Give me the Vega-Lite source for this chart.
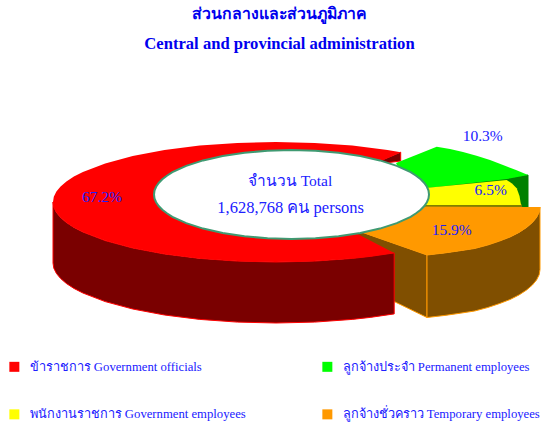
{"$schema":"https://vega.github.io/schema/vega-lite/v6.json","width":543,"height":366,"autosize":{"type":"none"},"padding":{"left":0,"top":60,"right":0,"bottom":0},"background":"white",
"title":{"text":"ส่วนกลางและส่วนภูมิภาค","subtitle":"Central and provincial administration","anchor":"middle","offset":6,"dx":8,"font":"Liberation Serif","fontSize":15.8,"fontWeight":"bold","color":"#0000ee","subtitleFont":"Liberation Serif","subtitleFontSize":16.6,"subtitleFontWeight":"bold","subtitleColor":"#0000ee","subtitlePadding":14},
"projection":{"type":"identity","scale":1,"translate":[0,-60]},
"layer":[
{"data":{"values":[
{"type":"Feature","properties":{"category":"ลูกจ้างชั่วคราว Temporary employees","part":"left face"},"geometry":{"type":"Polygon","coordinates":[[[350,228],[427,255],[427,317.5],[350,280],[350,228]]]}},
{"type":"Feature","properties":{"category":"ลูกจ้างชั่วคราว Temporary employees","part":"outer"},"geometry":{"type":"Polygon","coordinates":[[[540,207],[539.2,212.2],[536.6,217.4],[532.4,222.5],[526.6,227.5],[519.1,232.4],[510.1,237],[499.7,241],[487.8,245],[474.7,248.5],[460.3,250.7],[445,252.9],[427,255],[427,317.5],[445,315.4],[460.3,313.2],[474.7,311],[487.8,307.5],[499.7,303.5],[510.1,299.5],[519.1,294.9],[526.6,290],[532.4,285],[536.6,279.9],[539.2,274.7],[540,269.5],[540,207]]]}},
{"type":"Feature","properties":{"category":"ข้าราชการ Government officials","part":"outer"},"geometry":{"type":"Polygon","coordinates":[[[53,202],[53.8,207.2],[56.4,212.4],[60.6,217.5],[66.4,222.5],[73.9,227.4],[82.9,232],[105.2,240.6],[132.7,248],[164.5,254],[199.7,258.4],[237.3,261.1],[276,262],[314.7,261.1],[352.3,258.4],[370.2,256.4],[394.2,252.9],[394.2,313.9],[370.2,317.4],[352.3,319.4],[314.7,322.1],[276,323],[237.3,322.1],[199.7,319.4],[164.5,315],[132.7,309],[105.2,301.6],[82.9,293],[73.9,288.4],[66.4,283.5],[60.6,278.5],[56.4,273.4],[53.8,268.2],[53,263],[53,202]]]}},
{"type":"Feature","properties":{"category":"ข้าราชการ Government officials","part":"inner"},"geometry":{"type":"Polygon","coordinates":[[[400.7,152.2],[400.7,161],[385,163],[380,161],[400.7,152.2]]]}},
{"type":"Feature","properties":{"category":"ลูกจ้างประจำ Permanent employees","part":"outer"},"geometry":{"type":"Polygon","coordinates":[[[528,175],[528,207],[420,207],[420,186],[507,178.5],[528,175]]]}},
{"type":"Feature","properties":{"category":"พนักงานราชการ Government employees","part":"outer"},"geometry":{"type":"Polygon","coordinates":[[[420,204],[521,204],[522,208],[420,208],[420,204]]]}}
]},
"mark":{"type":"geoshape","strokeWidth":1},
"encoding":{
"fill":{"field":"properties.category","type":"nominal","legend":null,"sort":null,"scale":{"domain":["ลูกจ้างชั่วคราว Temporary employees","พนักงานราชการ Government employees","ลูกจ้างประจำ Permanent employees","ข้าราชการ Government officials"],"range":["#804f00","#808000","#008000","#7a0000"]}},
"stroke":{"field":"properties.category","type":"nominal","legend":null,"sort":null,"scale":{"domain":["ลูกจ้างชั่วคราว Temporary employees","พนักงานราชการ Government employees","ลูกจ้างประจำ Permanent employees","ข้าราชการ Government officials"],"range":["#ff9900","#808000","#008000","#ff0000"]}}
}},
{"data":{"values":[
{"type":"Feature","properties":{"category":"ข้าราชการ Government officials","share":67.2},"geometry":{"type":"Polygon","coordinates":[[[394.2,252.9],[370.2,256.4],[352.3,258.4],[314.7,261.1],[276,262],[237.3,261.1],[199.7,258.4],[164.5,254],[132.7,248],[105.2,240.6],[82.9,232],[73.9,227.4],[66.4,222.5],[60.6,217.5],[56.4,212.4],[53.8,207.2],[53,202],[53.8,196.8],[56.4,191.6],[60.6,186.5],[66.4,181.5],[73.9,176.6],[82.9,172],[105.2,163.4],[132.7,156],[164.5,150],[199.7,145.6],[237.3,142.9],[276,142],[314.7,142.9],[352.3,145.6],[387.5,150],[400.7,152.2],[292,200],[394.2,252.9]]]}},
{"type":"Feature","properties":{"category":"ลูกจ้างประจำ Permanent employees","share":10.3},"geometry":{"type":"Polygon","coordinates":[[[396,163],[436.7,146.7],[450,149],[463,152],[476.5,155.7],[490,160],[503,165],[516,170],[528,175],[507,179],[410,190],[396,163]]]}},
{"type":"Feature","properties":{"category":"พนักงานราชการ Government employees","share":6.5},"geometry":{"type":"Polygon","coordinates":[[[410,189.5],[506.7,180],[512,183.5],[516.7,188.3],[519.5,196],[521,205],[410,205],[410,189.5]]]}},
{"type":"Feature","properties":{"category":"ลูกจ้างชั่วคราว Temporary employees","share":15.9},"geometry":{"type":"Polygon","coordinates":[[[400,206.5],[540,207],[539.2,212.2],[536.6,217.4],[532.4,222.5],[526.6,227.5],[519.1,232.4],[510.1,237],[499.7,241],[487.8,245],[474.7,248.5],[460.3,250.7],[445,252.9],[427,255],[355,230],[400,206.5]]]}}
]},
"mark":{"type":"geoshape","strokeWidth":0},
"encoding":{"color":{"field":"properties.category","type":"nominal","sort":null,"title":null,
"scale":{"domain":["ข้าราชการ Government officials","ลูกจ้างประจำ Permanent employees","พนักงานราชการ Government employees","ลูกจ้างชั่วคราว Temporary employees"],"range":["#ff0000","#00ff00","#ffff00","#ff9900"]},
"legend":{"orient":"none","legendX":8,"legendY":300,"direction":"horizontal","columns":2,"symbolType":"square","symbolSize":100,"symbolStrokeWidth":0,"labelFont":"Liberation Serif","labelFontSize":12.7,"labelColor":"#2020ff","labelLimit":400,"labelOffset":9,"rowPadding":34,"columnPadding":75,"padding":0}}}},
{"data":{"values":[
{"type":"Feature","properties":{"name":"Total"},"geometry":{"type":"Polygon","coordinates":[[[429,194.5],[428.5,198.4],[426.9,202.2],[424.3,206],[420.7,209.7],[416.1,213.3],[410.6,216.8],[396.8,223.1],[379.9,228.6],[360.3,233],[338.5,236.3],[315.4,238.3],[291.5,239],[267.6,238.3],[244.5,236.3],[222.7,233],[203.1,228.6],[186.2,223.1],[172.4,216.8],[166.9,213.3],[162.3,209.7],[158.7,206],[156.1,202.2],[154.5,198.4],[154,194.5],[154.5,190.6],[156.1,186.8],[158.7,183],[162.3,179.3],[166.9,175.7],[172.4,172.2],[186.2,165.9],[203.1,160.4],[222.7,156],[244.5,152.7],[267.6,150.7],[291.5,150],[315.4,150.7],[338.5,152.7],[360.3,156],[379.9,160.4],[396.8,165.9],[410.6,172.2],[416.1,175.7],[420.7,179.3],[424.3,183],[426.9,186.8],[428.5,190.6],[429,194.5]]]}}
]},
"mark":{"type":"geoshape","fill":"white","stroke":"#3f9a72","strokeWidth":2}},
{"data":{"values":[
{"label":"67.2%","lon":102,"lat":197},
{"label":"10.3%","lon":482.7,"lat":135.7},
{"label":"6.5%","lon":490.7,"lat":190},
{"label":"15.9%","lon":451.7,"lat":230},
{"label":"จำนวน Total","lon":290,"lat":180.7}
]},
"mark":{"type":"text","font":"Liberation Serif","fontSize":15.5,"color":"#2020ff","align":"center","baseline":"middle"},
"encoding":{"longitude":{"field":"lon","type":"quantitative"},"latitude":{"field":"lat","type":"quantitative"},"text":{"field":"label"}}},
{"data":{"values":[{"label":"1,628,768 คน  persons","lon":290.7,"lat":208}]},
"mark":{"type":"text","font":"Liberation Serif","fontSize":16.5,"color":"#2020ff","align":"center","baseline":"middle"},
"encoding":{"longitude":{"field":"lon","type":"quantitative"},"latitude":{"field":"lat","type":"quantitative"},"text":{"field":"label"}}}
]}
